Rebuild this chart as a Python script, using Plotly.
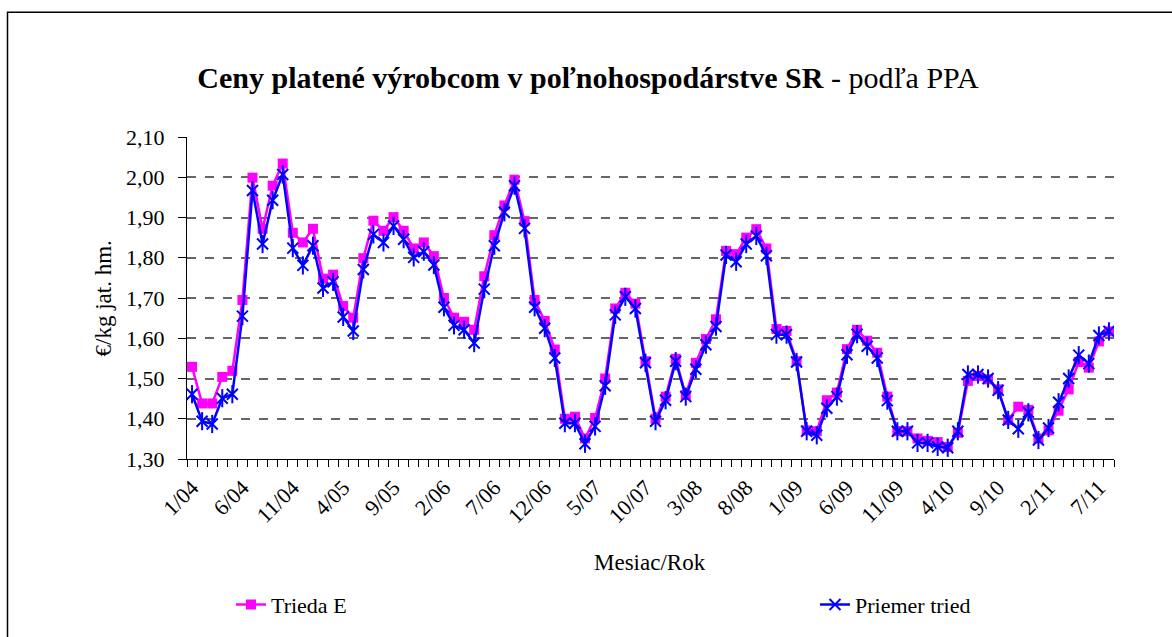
import plotly.graph_objects as go

# ---- data ----
months = [f"{i % 12 + 1}/{4 + i // 12:02d}" for i in range(92)]
tick_labels = [m if i % 5 == 0 else "" for i, m in enumerate(months)]

trieda_e = [1.529, 1.438, 1.438, 1.504, 1.519, 1.695, 1.999, 1.872, 1.979, 2.034,
            1.862, 1.838, 1.872, 1.748, 1.758, 1.680, 1.651, 1.799, 1.892, 1.867,
            1.901, 1.867, 1.823, 1.838, 1.804, 1.700, 1.651, 1.641, 1.621, 1.754,
            1.856, 1.930, 1.994, 1.891, 1.695, 1.643, 1.572, 1.400, 1.405, 1.351,
            1.402, 1.500, 1.674, 1.713, 1.686, 1.543, 1.400, 1.455, 1.549, 1.459,
            1.539, 1.598, 1.647, 1.817, 1.809, 1.850, 1.871, 1.823, 1.623, 1.618,
            1.543, 1.371, 1.369, 1.446, 1.465, 1.573, 1.621, 1.594, 1.564, 1.455,
            1.369, 1.369, 1.351, 1.345, 1.342, 1.330, 1.365, 1.494, 1.506, 1.498,
            1.473, 1.397, 1.430, 1.422, 1.351, 1.371, 1.420, 1.473, 1.541, 1.527,
            1.592, 1.617]

priemer = [1.461, 1.394, 1.387, 1.451, 1.461, 1.655, 1.967, 1.834, 1.943, 2.007,
           1.824, 1.781, 1.830, 1.725, 1.740, 1.653, 1.618, 1.771, 1.858, 1.838,
           1.879, 1.846, 1.801, 1.815, 1.782, 1.677, 1.632, 1.621, 1.588, 1.722,
           1.830, 1.913, 1.979, 1.873, 1.677, 1.625, 1.551, 1.389, 1.389, 1.338,
           1.381, 1.482, 1.658, 1.703, 1.674, 1.539, 1.394, 1.446, 1.543, 1.455,
           1.523, 1.584, 1.629, 1.807, 1.790, 1.834, 1.854, 1.805, 1.609, 1.609,
           1.541, 1.369, 1.359, 1.426, 1.455, 1.559, 1.610, 1.580, 1.551, 1.445,
           1.369, 1.369, 1.340, 1.340, 1.330, 1.328, 1.369, 1.510, 1.510, 1.500,
           1.471, 1.397, 1.375, 1.416, 1.347, 1.377, 1.441, 1.500, 1.558, 1.537,
           1.607, 1.617]

FONT = "Liberation Serif"
PINK = "#FF00FF"
BLUE = "#0000FF"

W, H = 1172, 637
L, R, T, B = 187, 58, 137, 175
pw, ph = W - L - R, H - T - B


def px_x(x):
    return (x - L) / pw


def px_y(y):
    return (H - B - y) / ph


fig = go.Figure()
fig.add_trace(go.Scatter(
    x=months, y=trieda_e, name="Trieda E", mode="lines+markers",
    line=dict(color=PINK, width=2.5),
    marker=dict(symbol="square", size=10, color=PINK),
    legend="legend",
))
fig.add_trace(go.Scatter(
    x=months, y=priemer, name="Priemer tried", mode="lines+markers",
    line=dict(color=BLUE, width=2.5),
    marker=dict(symbol="x-thin-open", size=11, color=BLUE,
                line=dict(color=BLUE, width=2)),
    legend="legend2",
))
fig.add_trace(go.Scatter(
    x=months, y=priemer, mode="markers", showlegend=False, hoverinfo="skip",
    marker=dict(symbol="line-ns-open", size=13, color=BLUE,
                line=dict(color=BLUE, width=2)),
))

fig.update_layout(
    width=W, height=H,
    margin=dict(l=L, r=R, t=T, b=B),
    paper_bgcolor="white", plot_bgcolor="white",
    separators=", ",
    font=dict(family=FONT, size=22, color="black"),
    title=dict(
        text="<b>Ceny platené výrobcom v poľnohospodárstve SR</b> - podľa PPA",
        font=dict(family=FONT, size=30, color="black"),
        x=588 / W, xanchor="center", y=1 - 77 / H, yanchor="middle",
    ),
    xaxis=dict(
        type="category",
        tickmode="array", tickvals=months, ticktext=tick_labels,
        tickson="boundaries", ticks="outside", ticklen=7, tickwidth=1,
        tickcolor="black", tickangle=-45, ticklabelstandoff=6,
        showline=True, linecolor="black", linewidth=1,
        showgrid=False, range=[-0.5, len(months) - 0.5],
        tickfont=dict(family=FONT, size=22),
    ),
    yaxis=dict(
        range=[1.30, 2.10], dtick=0.1, tick0=1.30, tickformat=".2f",
        ticks="outside", ticklen=8, tickcolor="black", ticklabelstandoff=9,
        showline=True, linecolor="black", linewidth=1,
        showgrid=True, gridcolor="#666666", gridwidth=1.5, griddash="dash",
        zeroline=False,
        tickfont=dict(family=FONT, size=22),
    ),
    legend=dict(
        x=px_x(231), y=px_y(609), xanchor="left", yanchor="middle",
        orientation="h", bgcolor="rgba(0,0,0,0)",
        font=dict(family=FONT, size=22),
    ),
    legend2=dict(
        x=px_x(815), y=px_y(609), xanchor="left", yanchor="middle",
        orientation="h", bgcolor="rgba(0,0,0,0)",
        font=dict(family=FONT, size=22),
    ),
    annotations=[
        dict(text="Mesiac/Rok", xref="paper", yref="paper",
             x=px_x(650), y=px_y(566), xanchor="center", yanchor="middle",
             showarrow=False, font=dict(family=FONT, size=23)),
        dict(text="€/kg jat. hm.", xref="paper", yref="paper",
             x=px_x(103), y=px_y(300), xanchor="center", yanchor="middle",
             showarrow=False, textangle=-90,
             font=dict(family=FONT, size=23)),
    ],
    shapes=[
        dict(type="rect", xref="paper", yref="paper",
             x0=px_x(7.5), x1=px_x(1180), y0=px_y(650), y1=px_y(11),
             line=dict(color="black", width=1.5), fillcolor="rgba(0,0,0,0)",
             layer="below"),
    ],
)

fig.write_html("out.html", config={"displayModeBar": False},
               post_script="document.body.style.margin='0';")
